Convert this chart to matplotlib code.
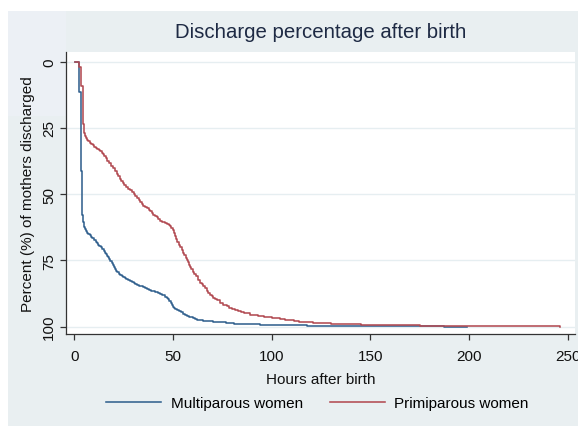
import matplotlib
matplotlib.use("Agg")
import matplotlib.pyplot as plt
from matplotlib.patches import Rectangle

# ---- data ----
multi_hours = [0.5, 2.2, 3.2, 3.9, 4.4, 5, 5.5, 6, 6.5, 7, 7.8, 8.5, 9.2, 10, 10.8, 11.5,
               12.1, 12.7, 13.4, 14, 14.8, 15.5, 16, 16.5, 17.1, 17.7, 18.3, 19, 19.5, 20,
               20.5, 21, 21.7, 22.5, 23.2, 24, 24.8, 25.5, 26.2, 27, 28, 29, 30, 31, 32,
               33, 34, 35, 36, 37, 38, 39, 40, 41, 42.2, 43.4, 44.2, 45, 46, 46.8, 47.4,
               48, 48.8, 49.5, 50, 50.5, 51.2, 52, 53, 54, 55, 56, 57, 58, 59.2, 60.3,
               61.2, 62, 63.7, 65.4, 67.7, 70, 73.5, 77, 81, 85, 89.5, 94, 100, 105, 111,
               118, 127, 135, 142, 150, 162, 175, 187, 198.8]
multi_pct = [0, 11.5, 41.4, 58, 60.5, 62.5, 63.3, 64, 64.5, 65, 65.5, 66, 66.7, 67.3, 67.9,
             68.5, 69, 69.5, 70, 70.6, 71.3, 72, 72.6, 73.2, 73.8, 74.5, 75.2, 76, 76.7,
             77.4, 78.1, 78.9, 79.5, 80, 80.4, 80.8, 81.2, 81.6, 82, 82.3, 82.7, 83, 83.4,
             83.8, 84.2, 84.5, 84.8, 85.1, 85.5, 85.8, 86.1, 86.4, 86.7, 87, 87.3, 87.6,
             87.9, 88.2, 88.6, 89, 89.6, 90.2, 91, 91.8, 92.4, 93, 93.3, 93.6, 94.1, 94.6,
             95.1, 95.5, 95.9, 96.2, 96.5, 96.8, 97.1, 97.3, 97.5, 97.7, 98, 98.2, 98.4,
             98.6, 98.8, 99, 99.1, 99.2, 99.3, 99.4, 99.5, 99.6, 99.65, 99.7, 99.75, 99.8,
             99.85, 99.9, 99.95, 100]

primi_hours = [0.5, 2.5, 3.2, 4.2, 5, 5.5, 6, 6.5, 7, 7.8, 8.5, 9.3, 10, 10.8, 11.5, 12.3,
               13, 13.8, 14.5, 15.2, 16, 16.8, 17.7, 18.6, 19.5, 20.5, 21.5, 22.2, 23, 23.8,
               24.5, 25.3, 26, 27, 28, 29, 30, 31, 32, 32.8, 33.5, 34.3, 35, 36, 37, 37.8,
               38.5, 39.2, 40, 40.8, 41.7, 42.5, 43.4, 44.2, 45, 46, 47, 47.8, 48.5, 49.2,
               50, 50.5, 51, 51.5, 52, 52.8, 53.5, 54.3, 55.2, 55.8, 56.5, 57.1, 57.7, 58.2,
               58.6, 59.3, 60, 60.7, 61.5, 62.6, 63.7, 64.5, 65.4, 66.2, 67, 67.8, 68.7,
               69.6, 70.5, 71.5, 72.5, 74, 75.5, 77.2, 78.6, 80, 81.5, 83, 84.5, 86, 89, 91,
               93, 96, 100, 104, 106.5, 109, 111.5, 114, 118, 121, 125, 130, 134.6, 140,
               145, 152, 160, 175, 188.7, 200, 246]
primi_pct = [0, 2.1, 9, 23.5, 27, 28, 28.8, 29.5, 30, 30.6, 31.1, 31.6, 32, 32.5, 33, 33.4,
             33.8, 34.4, 35, 35.7, 36.5, 37.4, 38.4, 39.3, 40.3, 41.2, 42.2, 43.3, 44.3, 45,
             45.8, 46.6, 47.3, 48, 48.6, 49.3, 49.9, 50.7, 51.5, 52.3, 53, 53.7, 54.3, 54.8,
             55.3, 55.8, 56.2, 57, 57.8, 58.3, 58.7, 59.3, 60, 60.3, 60.5, 60.9, 61.2, 61.5,
             61.9, 62.6, 63.5, 64.6, 65.7, 66.8, 68, 69, 70, 71, 72, 73, 74, 74.9, 75.7,
             76.6, 77.5, 78.4, 79.3, 80.1, 81, 82.2, 83.4, 84, 84.5, 85.5, 86.5, 87.3, 88,
             88.5, 89, 89.5, 90, 90.9, 91.7, 92.3, 92.8, 93.2, 93.7, 94.2, 94.6, 95, 95.4,
             95.7, 96, 96.4, 96.7, 97, 97.3, 97.6, 97.9, 98.2, 98.3, 98.5, 98.7, 98.85, 99,
             99.15, 99.3, 99.4, 99.5, 99.7, 99.85, 99.9, 100]

x_ticks = [0, 50, 100, 150, 200, 250]
y_ticks = [0, 25, 50, 75, 100]
series_labels = ["Multiparous women", "Primiparous women"]

# ---- style ----
FONT = ["Liberation Sans", "DejaVu Sans"]
plt.rcParams['font.family'] = FONT
BG = "#E9EFF1"
BLUE = "#33628F"
RED = "#B24B53"
W, H = 578, 427

fig = plt.figure(figsize=(W / 100, H / 100), dpi=100, facecolor="white")
# Stata-like graph region
fig.patches.append(Rectangle((8 / W, 0), 1 - 8 / W, 1 - 12 / H, transform=fig.transFigure,
                             facecolor=BG, edgecolor="none", zorder=-5))
fig.patches.append(Rectangle((8 / W, 1 - 117 / H), 58 / W, 105 / H, transform=fig.transFigure,
                             facecolor="#ECF0F5", edgecolor="none", zorder=-4))

ax = fig.add_axes([66 / W, 1 - 335 / H, (575 - 66) / W, (335 - 53) / H])
ax.set_zorder(1)
ax.set_facecolor("white")

ax.step(multi_hours, multi_pct, where="post", color=BLUE, lw=1.15, label=series_labels[0])
ax.step(primi_hours, primi_pct, where="post", color=RED, lw=1.15, label=series_labels[1])

ax.set_xlim(-4.2, 253.6)
ax.set_ylim(102.75, -3.66)
ax.set_xticks(x_ticks)
ax.set_yticks(y_ticks)
ax.set_xticklabels([str(t) for t in x_ticks], fontsize=11)
ax.set_yticklabels([str(t) for t in y_ticks], fontsize=11, rotation=90, va="center")

ax.grid(axis="y", color="#E6EEF1", lw=1.0)
ax.set_axisbelow(True)
for s in ["top", "right"]:
    ax.spines[s].set_visible(False)
for s in ["left", "bottom"]:
    ax.spines[s].set_color("#333333")
    ax.spines[s].set_linewidth(0.9)
ax.tick_params(axis="both", length=4.5, width=0.9, color="#333333", labelcolor="#111111")
ax.tick_params(axis="x", pad=6)
ax.tick_params(axis="y", pad=2.5)

ax.set_xlabel("Hours after birth", fontsize=11, labelpad=7, color="#111111")
ax.set_ylabel("Percent (%) of mothers discharged", fontsize=11, labelpad=5, color="#111111")

fig.text(320.5 / W, 1 - 33 / H, "Discharge percentage after birth", ha="center", va="center",
         fontsize=14.7, color="#1E2A44")

fig.legend(loc="center", bbox_to_anchor=(317.5 / W, 1 - 404 / H), ncol=2, frameon=False,
           fontsize=11, handlelength=3.6, handletextpad=0.6, columnspacing=1.8)

fig.savefig("out.png", dpi=100, facecolor="white")
